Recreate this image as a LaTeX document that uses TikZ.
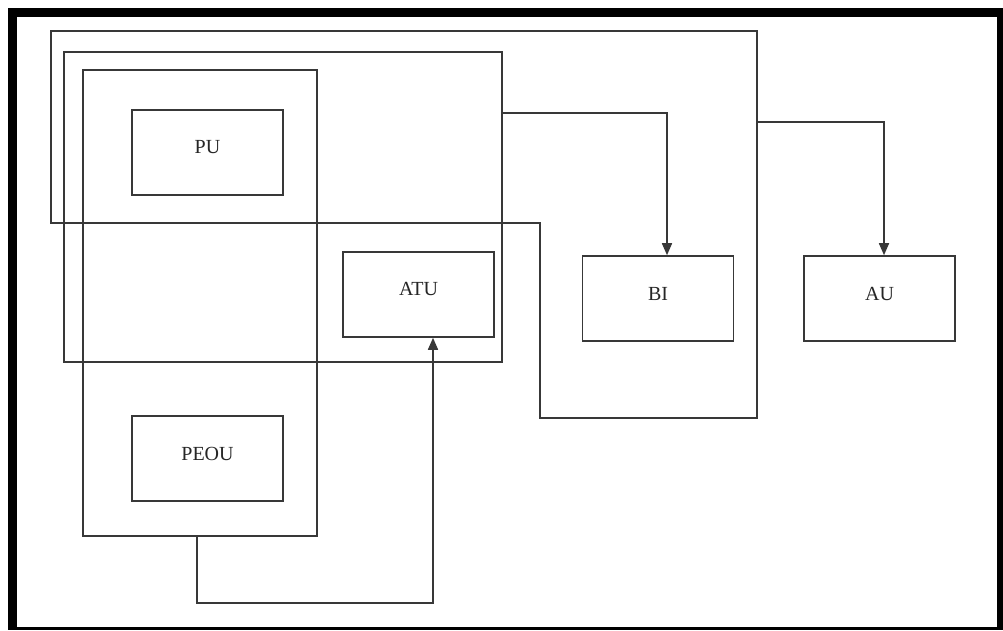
\documentclass[tikz,border=0pt]{standalone}
\usepackage{fontspec}
\setmainfont{Liberation Serif}
\usetikzlibrary{arrows.meta}
\begin{document}
\begin{tikzpicture}[x=1pt,y=-1pt,
  ln/.style={draw=black!78, line width=1.6pt, line join=miter},
  box/.style={ln, rectangle, minimum width=151pt, minimum height=85pt, inner sep=0pt},
  frm/.style={ln, rectangle, inner sep=0pt},
  lbl/.style={font=\fontsize{20}{22}\selectfont, text=black!85},
  arr/.style={ln, -{Triangle[length=12pt,width=10pt]}},
]
\useasboundingbox (0,0) rectangle (1003,630);
\fill[black] (8,8) rectangle (1003,630);
\fill[white] (17,17) rectangle (997,627);

% outer loop frame
\draw[ln] (540,223) -- (51,223) -- (51,31) -- (757,31) -- (757,418) -- (540,418) -- cycle;
\coordinate (astart) at (757,122);

% middle frame
\node[frm, minimum width=438pt, minimum height=310pt] (frmB) at (283,207) {};
% inner frame
\node[frm, minimum width=234pt, minimum height=466pt] (frmC) at (200,303) {};

% boxes
\node[box, label={[lbl,yshift=5pt]center:PU}] (pu) at (207.5,152.5) {};
\node[box, label={[lbl,yshift=5pt]center:PEOU}] (peou) at (207.5,458.5) {};
\node[box, label={[lbl,yshift=6pt]center:ATU}] (atu) at (418.5,294.5) {};
\node[box, label={[lbl,yshift=5pt]center:BI}] (bi) at (658.1,298.5) {};
\node[box, label={[lbl,yshift=5pt]center:AU}] (au) at (879.5,298.5) {};

% connectors
\draw[arr] ([yshift=94pt]frmB.east) -| ([xshift=8.9pt]bi.north);
\draw[arr] (astart) -| ([xshift=4.5pt]au.north);
\draw[arr] ([xshift=-3pt]frmC.south) -- ++(0,66) -| ([xshift=14.5pt]atu.south);
\end{tikzpicture}
\end{document}
